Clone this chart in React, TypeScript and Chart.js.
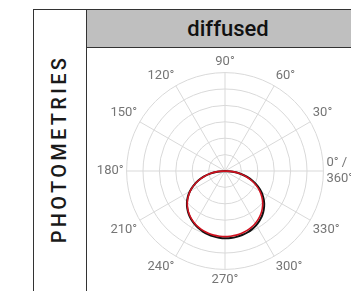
import React, { useEffect, useRef } from 'react';
import { Chart, registerables } from 'chart.js';

Chart.register(...registerables);

const titleText = 'diffused';
const sideText = 'PHOTOMETRIES';

// angles (degrees) of the samples, in the order the radar draws them (clockwise from the top)
const sampleAngles = [
  90, 85, 80, 75, 70, 65, 60, 55, 50, 45, 40, 35, 30, 25, 20, 15, 10, 5,
  0, 355, 350, 345, 340, 335, 330, 325, 320, 315, 310, 305, 300, 295, 290, 285, 280, 275,
  270, 265, 260, 255, 250, 245, 240, 235, 230, 225, 220, 215, 210, 205, 200, 195, 190, 185,
  180, 175, 170, 165, 160, 155, 150, 145, 140, 135, 130, 125, 120, 115, 110, 105, 100, 95,
];

const tickAngles = [0, 30, 60, 90, 120, 150, 180, 210, 240, 270, 300, 330];
const tickLabels: (string | string[])[] = [
  ['0° /', '360°'], '30°', '60°', '90°', '120°', '150°', '180°', '210°', '240°', '270°', '300°', '330°',
];

const redValues = [
  0, 0, 0, 0, 0, 0, 0, 0, 0, 0, 0, 0, 0, 0, 0, 0, 0, 0,
  0, 0.46, 0.91, 1.34, 1.74, 2.11, 2.45, 2.74, 3.0, 3.22, 3.41, 3.56, 3.69, 3.79, 3.87, 3.93, 3.97, 3.99,
  4.0, 3.99, 3.97, 3.93, 3.87, 3.79, 3.69, 3.56, 3.41, 3.22, 3.0, 2.74, 2.45, 2.11, 1.74, 1.34, 0.91, 0.46,
  0, 0, 0, 0, 0, 0, 0, 0, 0, 0, 0, 0, 0, 0, 0, 0, 0, 0,
];

const blackValues = [
  0, 0, 0, 0, 0, 0, 0, 0, 0, 0, 0, 0, 0, 0, 0, 0, 0, 0,
  0, 0.48, 0.95, 1.4, 1.82, 2.21, 2.56, 2.86, 3.12, 3.34, 3.53, 3.68, 3.81, 3.91, 3.99, 4.04, 4.08, 4.1,
  4.1, 4.08, 4.05, 4.0, 3.93, 3.84, 3.73, 3.6, 3.44, 3.25, 3.03, 2.77, 2.47, 2.13, 1.75, 1.35, 0.92, 0.46,
  0, 0, 0, 0, 0, 0, 0, 0, 0, 0, 0, 0, 0, 0, 0, 0, 0, 0,
];

const ringMax = 6;
const ringStep = 1;

function PolarChart() {
  const ref = useRef<HTMLCanvasElement | null>(null);
  useEffect(() => {
    if (!ref.current) return;
    const labels = sampleAngles.map((a) => {
      const k = tickAngles.indexOf(a);
      return k >= 0 ? tickLabels[k] : '';
    });
    const chart = new Chart(ref.current, {
      type: 'radar',
      data: {
        labels,
        datasets: [
          {
            data: redValues,
            borderColor: '#d0101e',
            borderWidth: 1.6,
            pointRadius: 0,
            fill: false,
            tension: 0.3,
          },
          {
            data: blackValues,
            borderColor: '#111111',
            borderWidth: 2,
            pointRadius: 0,
            fill: false,
            tension: 0.3,
          },
        ],
      },
      options: {
        animation: false,
        responsive: true,
        maintainAspectRatio: false,
        plugins: { legend: { display: false }, tooltip: { enabled: false } },
        scales: {
          r: {
            min: 0,
            max: ringMax,
            ticks: { display: false, stepSize: ringStep },
            grid: { circular: true, color: '#d9d9d9', lineWidth: 1 },
            angleLines: {
              color: (ctx: any) => (sampleAngles[ctx.index] % 30 === 0 ? '#d9d9d9' : 'rgba(0,0,0,0)'),
              lineWidth: (ctx: any) => (sampleAngles[ctx.index] % 30 === 0 ? 1 : 0),
            },
            pointLabels: {
              color: '#757575',
              font: { family: 'Roboto', size: 13 },
              padding: 3,
            },
          },
        },
      },
    });
    return () => chart.destroy();
  }, []);
  return <canvas ref={ref} />;
}

export default function App() {
  return (
    <div
      style={{
        position: 'absolute',
        left: 0,
        top: 0,
        width: 351,
        height: 291,
        overflow: 'hidden',
        background: '#fff',
      }}
    >
      <div
        style={{
          position: 'absolute',
          left: 33,
          top: 9,
          width: 360,
          height: 320,
          border: '1px solid #333',
          boxSizing: 'border-box',
        }}
      />
      <div style={{ position: 'absolute', left: 86, top: 9, width: 1, height: 320, background: '#333' }} />
      <div
        style={{
          position: 'absolute',
          left: 87,
          top: 10,
          width: 282,
          height: 37,
          background: '#bfbfbf',
          borderBottom: '1px solid #333',
          textAlign: 'center',
          lineHeight: '37px',
          fontFamily: 'Roboto',
          fontWeight: 500,
          fontSize: 22,
          color: '#111',
        }}
      >
        {titleText}
      </div>
      <div
        style={{
          position: 'absolute',
          left: 58.5 - 110,
          top: 148.5 - 14,
          width: 220,
          height: 28,
          lineHeight: '28px',
          textAlign: 'center',
          transform: 'rotate(-90deg)',
          fontFamily: 'Roboto',
          fontWeight: 500,
          fontSize: 20,
          letterSpacing: 3.3,
          color: '#1a1a1a',
          whiteSpace: 'nowrap',
        }}
      >
        {sideText}
      </div>
      <div style={{ position: 'absolute', left: 87, top: 54, width: 277, height: 235 }}>
        <PolarChart />
      </div>
    </div>
  );
}
